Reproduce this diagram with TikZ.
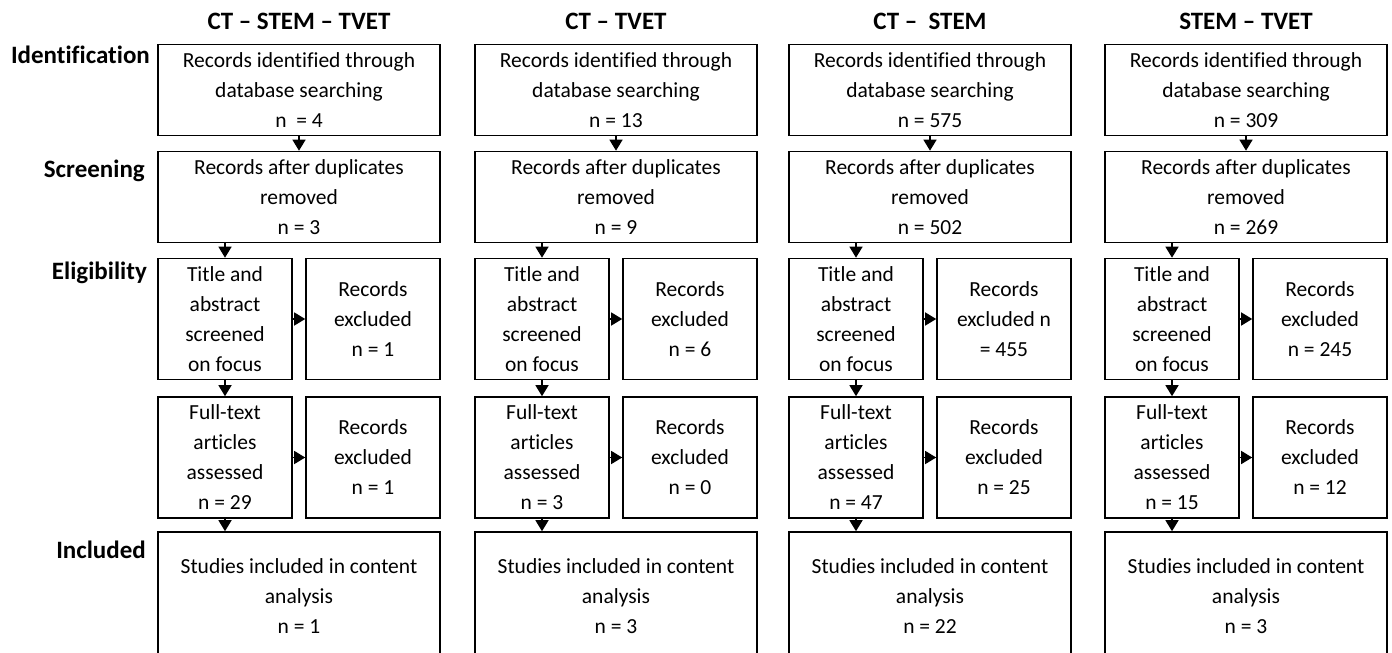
\documentclass[tikz,border=0pt]{standalone}
\usepackage{fontspec}
\setmainfont{Carlito}[Ligatures=NoCommon]
\usetikzlibrary{arrows.meta}
\tikzset{
  box/.style={draw=black, line width=1.6pt, align=center, inner sep=0pt,
    font=\fontsize{21.5}{30}\selectfont},
  wide/.style={box, minimum width=282pt, minimum height=91pt},
  narrow/.style={box, minimum width=134pt, minimum height=121pt},
  incl/.style={box, minimum width=282pt, minimum height=128pt},
  arr/.style={line width=1.4pt, -{Triangle[length=11pt,width=13pt]}},
  head/.style={font=\fontsize{25}{30}\selectfont\bfseries, inner sep=0pt},
  stage/.style={head, anchor=east},
}
\newcommand\prismacol[9]{%
  \node[wide] (#1a) at (#2+141, 90) {Records identified through\\database searching\\#4};
  \node[head] (#1t) at (#2+141, 21) {#3};
  \node[wide] (#1b) at (#2+141, 197) {Records after duplicates\\removed\\n = #5};
  \node[narrow] (#1c) at (#2+67, 319) {Title and\\abstract\\screened\\on focus};
  \node[narrow] (#1d) at (#2+215, 319) {#6};
  \node[narrow] (#1e) at (#2+67, 457.5) {Full-text\\articles\\assessed\\n = #7};
  \node[narrow] (#1f) at (#2+215, 457.5) {Records\\excluded\\n = #8};
  \node[incl] (#1g) at (#2+141, 596) {Studies included in content\\analysis\\n = #9};
  \draw[arr] (#1a.south) -- (#1b.north);
  \draw[arr] (#1b.south -| #1c.north) -- (#1c.north);
  \draw[arr] (#1c.east) -- (#1d.west);
  \draw[arr] (#1c.south) -- (#1e.north);
  \draw[arr] (#1e.east) -- (#1f.west);
  \draw[arr] (#1e.south) -- (#1e.south |- #1g.north);
}
\begin{document}
\begin{tikzpicture}[x=1pt, y=-1pt]
\useasboundingbox (0,0) rectangle (1392,653);
\clip (0,0) rectangle (1392,653);
\fill[white] (0,0) rectangle (1392,653);
\node[stage] (s1) at (150, 55) {Identification};
\node[stage] (s2) at (145, 171) {Screening};
\node[stage] (s3) at (147, 273) {Eligibility};
\node[stage] (s4) at (146, 550) {Included};
\prismacol{A}{158}{CT – STEM – TVET}{n\ \ = 4}{3}{Records\\excluded\\n = 1}{29}{1}{1}
\prismacol{B}{475}{CT – TVET}{n = 13}{9}{Records\\excluded\\n = 6}{3}{0}{3}
\prismacol{C}{789}{CT –\ \ STEM}{n = 575}{502}{Records\\excluded n\\= 455}{47}{25}{22}
\prismacol{D}{1105}{STEM – TVET}{n = 309}{269}{Records\\excluded\\n = 245}{15}{12}{3}
\end{tikzpicture}
\end{document}
